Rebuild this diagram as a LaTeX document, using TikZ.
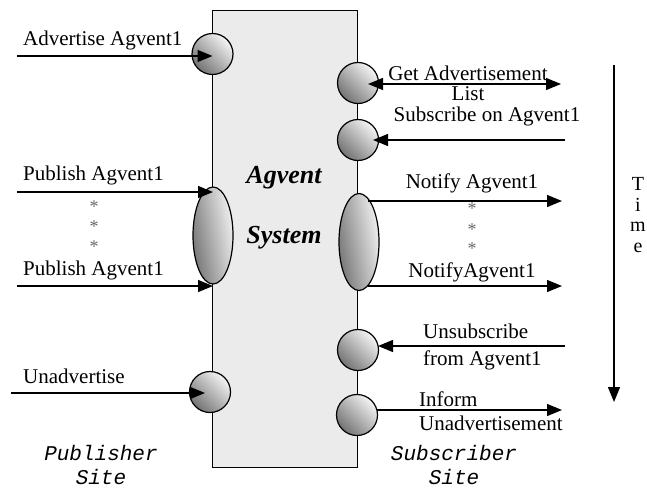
\documentclass[tikz,border=0pt]{standalone}
\usepackage{fontspec}
\setmainfont{Liberation Serif}
\setmonofont{Liberation Mono}
\usetikzlibrary{arrows.meta,shapes.geometric}
\begin{document}
\begin{tikzpicture}[x=1pt,y=-1pt,
  every node/.style={font=\fontsize{21}{24}\selectfont, inner sep=0pt},
  port/.style={circle, draw=black, line width=1.2pt, minimum size=41pt,
    left color=black!55, right color=black!4, shading angle=135},
  longport/.style={ellipse, draw=black, line width=1.2pt,
    minimum width=40pt, minimum height=97pt,
    left color=black!55, right color=black!4, shading angle=100},
  msg/.style={line width=1.3pt, -{Triangle[length=15pt,width=12pt]}},
  dmsg/.style={line width=1.3pt, {Triangle[length=15pt,width=12pt]}-{Triangle[length=15pt,width=12pt]}},
  star/.style={text=black!60, font=\fontsize{18}{18}\selectfont},
  site/.style={font=\fontsize{21}{24}\selectfont\ttfamily\itshape, align=center},
  sysfont/.style={font=\fontsize{26}{30}\selectfont\bfseries\itshape},
]
\useasboundingbox (0,0) rectangle (647,487);

% central system box
\node[draw=black, line width=1pt, fill=black!8, minimum width=145pt,
  minimum height=457pt, anchor=north west] (sys) at (212,10) {};
\node[sysfont] (agv) at (284,178) {Agvent};
\node[sysfont] (sysname) at (284,238) {System};

% publisher side ports
\node[port] (adv) at (212.5,54) {};
\node[longport] (pub) at (213,235.5) {};
\node[port] (unadv) at (210,392) {};

% subscriber side ports
\node[port] (getad) at (358,83) {};
\node[port] (subs) at (358,140) {};
\node[longport] (notif) at (359,242) {};
\node[port] (unsub) at (358,350) {};
\node[port] (inform) at (357,415) {};

% free ends of the message arrows
\coordinate (advsrc) at (17,56);
\coordinate (pubsrcA) at (17,192);
\coordinate (pubsrcB) at (17,286);
\coordinate (unadvsrc) at (11,393);
\coordinate (getaddst) at (561,84);
\coordinate (subssrc) at (565,140);
\coordinate (notifdstA) at (562,201);
\coordinate (notifdstB) at (562,286);
\coordinate (unsubsrc) at (565,346);
\coordinate (informdst) at (562,410);

% publisher messages
\draw[msg] (advsrc) -- (advsrc -| adv.center);
\draw[msg] (pubsrcA) -- (pubsrcA -| pub.center);
\draw[msg] (pubsrcB) -- (pubsrcB -| pub.center);
\draw[msg] (unadvsrc) -- ([xshift=-5pt]unadvsrc -| unadv.center);

% subscriber messages
\draw[dmsg] ([xshift=10pt]getaddst -| getad.center) -- (getaddst);
\draw[msg] (subssrc) -- ([xshift=15pt]subssrc -| subs.center);
\draw[msg] ([xshift=9pt]notifdstA -| notif.center) -- (notifdstA);
\draw[msg] ([xshift=9pt]notifdstB -| notif.center) -- (notifdstB);
\draw[msg] (unsubsrc) -- ([xshift=20pt]unsubsrc -| unsub.center);
\draw[msg] ([xshift=20pt]informdst -| inform.center) -- (informdst);

% publisher labels
\node[anchor=west] (advlbl) at (23,40) {Advertise Agvent1};
\node[anchor=west] (publblA) at (23,175) {Publish Agvent1};
\node[star] (ps1) at (94,207) {*};
\node[star] (ps2) at (94,227) {*};
\node[star] (ps3) at (94,247) {*};
\node[anchor=west] (publblB) at (23,270) {Publish Agvent1};
\node[anchor=west] (unadvlbl) at (23,376) {Unadvertise};

% subscriber labels
\node (getadlblA) at (468,73) {Get Advertisement};
\node (getadlblB) at (468,94) {List};
\node (subslbl) at (487,116) {Subscribe on Agvent1};
\node (notiflblA) at (472,183) {Notify Agvent1};
\node[star] (ns1) at (472,209) {*};
\node[star] (ns2) at (472,230) {*};
\node[star] (ns3) at (472,249) {*};
\node (notiflblB) at (472,272) {NotifyAgvent1};
\node[align=left, anchor=west] (unsublbl) at (423,347) {Unsubscribe\\[3pt]from Agvent1};
\node[align=left, anchor=west] (informlbl) at (419,411) {Inform\\Unadvertisement};

% site captions
\node[site] (pubsite) at (101,465) {Publisher\\Site};
\node[site] (subsite) at (454,465) {Subscriber\\Site};

% time axis
\coordinate (tstart) at (614,65);
\coordinate (tend) at (614,402);
\draw[msg] (tstart) -- (tend);
\node[align=center, font=\fontsize{20}{20.5}\selectfont] (timelbl) at (638,215) {T\\i\\m\\e};
\end{tikzpicture}
\end{document}
